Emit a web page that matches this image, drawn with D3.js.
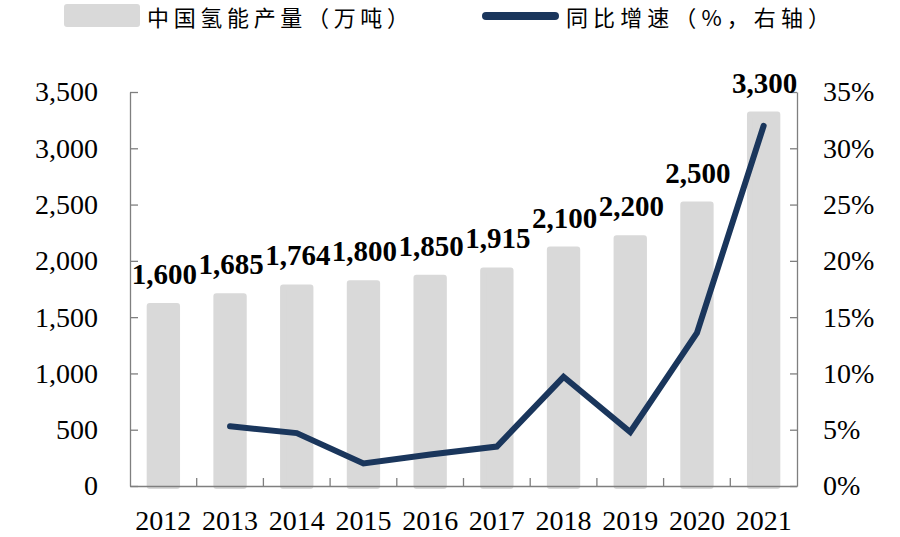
<!DOCTYPE html>
<html>
<head>
<meta charset="utf-8">
<script src="https://cdn.jsdelivr.net/npm/d3@7"></script>
<style>
	body { margin: 0; background: #fff; }
	svg { display: block; }
	.tick_text { font-family: "Liberation Serif", "Times New Roman", serif; font-size: 28px; fill: #000; }
	.bar_label { font-family: "Liberation Serif", "Times New Roman", serif; font-size: 29px; font-weight: bold; fill: #000; }
	.legend_text { font-family: "Noto Sans CJK SC", sans-serif; font-size: 22px; fill: #000; }
</style>
</head>
<body>
<svg id="chart" width="900" height="537"></svg>
<script>

var years = ["2012", "2013", "2014", "2015", "2016", "2017", "2018", "2019", "2020", "2021"]
var output = [1600, 1685, 1764, 1800, 1850, 1915, 2100, 2200, 2500, 3300]
// yoy growth in %, no value for the first year
var growth = [null, 5.3, 4.7, 2.0, 2.8, 3.5, 9.7, 4.8, 13.6, 32.0]
var left_ticks = [0, 500, 1000, 1500, 2000, 2500, 3000, 3500]
var right_ticks = [0, 5, 10, 15, 20, 25, 30, 35]

var bar_colour = "#d9d9d9"
var line_colour = "#1a365c"
var axis_colour = "#7f7f7f"

var margin = {left: 130, right: 103, top: 92, bottom: 51}
var width = 900 - margin.left - margin.right
var height = 537 - margin.top - margin.bottom

var svg = d3.select("#chart")
var g = svg.append("g")
	.attr("transform", "translate(" + margin.left + "," + margin.top + ")")

var x = d3.scaleBand().domain(years).range([0, width]).paddingInner(0).paddingOuter(0)
var y_left = d3.scaleLinear().domain([0, 3500]).range([height, 0])
var y_right = d3.scaleLinear().domain([0, 35]).range([height, 0])

var bar_w = x.bandwidth() * 0.41

// bars: stroked in the fill colour so the corners come out rounded
g.selectAll(".bar")
	.data(_zip(years, output))
	.enter()
	.append("rect")
	.attr("class", "bar")
	.attr("x", function(d) {return x(d[0]) + x.bandwidth() / 2 - bar_w / 2})
	.attr("y", function(d) {return y_left(d[1])})
	.attr("width", bar_w)
	.attr("height", function(d) {return height - y_left(d[1])})
	.attr("fill", bar_colour)
	.attr("stroke", bar_colour)
	.attr("stroke-width", 6)
	.attr("stroke-linejoin", "round")

// left axis
var left_axis = g.append("g")
	.call(d3.axisLeft(y_left).tickValues(left_ticks).tickSize(-8).tickSizeOuter(0).tickPadding(32).tickFormat(d3.format(",")))
left_axis.selectAll("text").attr("class", "tick_text").attr("font-size", null).attr("font-family", null)

// right axis
var right_axis = g.append("g")
	.attr("transform", "translate(" + width + ",0)")
	.call(d3.axisRight(y_right).tickValues(right_ticks).tickSize(-7).tickSizeOuter(0).tickPadding(26).tickFormat(function(d) {return d + "%"}))
right_axis.selectAll("text").attr("class", "tick_text").attr("font-size", null).attr("font-family", null)

// bottom axis, ticks sit between the categories
var bottom_axis = g.append("g")
	.attr("transform", "translate(0," + height + ")")
	.call(d3.axisBottom(x).tickSize(0).tickSizeOuter(0))
bottom_axis.selectAll("text")
	.attr("class", "tick_text")
	.attr("font-size", null).attr("font-family", null)
	.attr("y", 44).attr("dy", 0)

bottom_axis.selectAll(".divider")
	.data(years.slice(1))
	.enter()
	.append("line")
	.attr("class", "divider")
	.attr("x1", function(d) {return x(d)})
	.attr("x2", function(d) {return x(d)})
	.attr("y1", 0)
	.attr("y2", -8)

svg.selectAll(".domain, .tick line, .divider")
	.attr("stroke", axis_colour)
	.attr("stroke-width", 1.3)

// growth line
var line = d3.line()
	.defined(function(d) {return d[1] != null})
	.x(function(d) {return x(d[0]) + x.bandwidth() / 2})
	.y(function(d) {return y_right(d[1])})

g.append("path")
	.datum(_zip(years, growth))
	.attr("d", line)
	.attr("fill", "none")
	.attr("stroke", line_colour)
	.attr("stroke-width", 6)
	.attr("stroke-linecap", "round")
	.attr("stroke-linejoin", "miter")

// value labels above bars
g.selectAll(".bar_label")
	.data(_zip(years, output))
	.enter()
	.append("text")
	.attr("class", "bar_label")
	.attr("x", function(d) {return x(d[0]) + x.bandwidth() / 2 + 1})
	.attr("y", function(d) {return y_left(d[1]) - 22})
	.attr("text-anchor", "middle")
	.text(function(d) {return d3.format(",")(d[1])})

// legend
var legend = svg.append("g")
legend.append("rect")
	.attr("x", 64).attr("y", 4)
	.attr("width", 76).attr("height", 23)
	.attr("rx", 3)
	.attr("fill", bar_colour)
legend.append("text")
	.attr("class", "legend_text")
	.attr("x", 147).attr("y", 26)
	.attr("textLength", 262).attr("lengthAdjust", "spacing")
	.text("中国氢能产量（万吨）")
legend.append("line")
	.attr("x1", 486).attr("x2", 555)
	.attr("y1", 16).attr("y2", 16)
	.attr("stroke", line_colour)
	.attr("stroke-width", 8)
	.attr("stroke-linecap", "round")
legend.append("text")
	.attr("class", "legend_text")
	.attr("x", 566).attr("y", 26)
	.attr("textLength", 264).attr("lengthAdjust", "spacing")
	.text("同比增速（%，右轴）")

function _zip(a, b) {
	return a.map(function(d, i) {return [d, b[i]]})
}
</script>
</body>
</html>
